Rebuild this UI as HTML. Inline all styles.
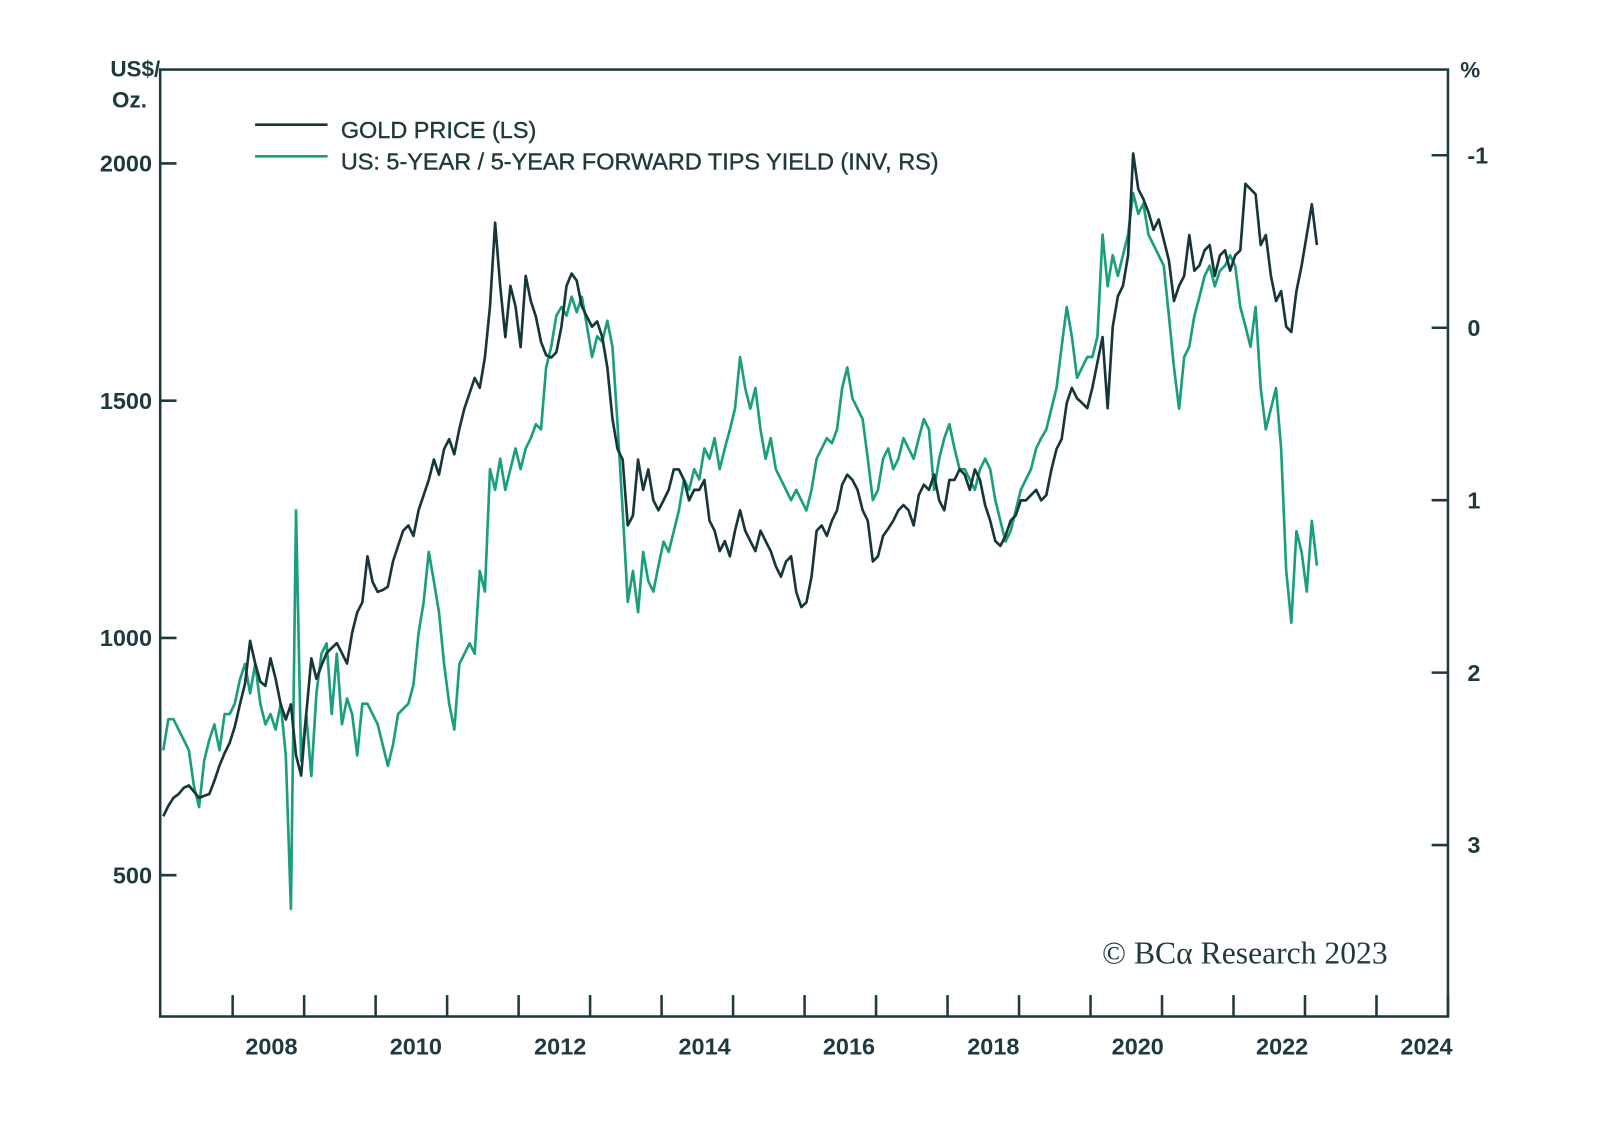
<!DOCTYPE html>
<html><head><meta charset="utf-8"><style>
body{margin:0;background:#fff;}
svg{display:block;}
text{font-family:"Liberation Sans",sans-serif;fill:#1f3a3d;}
</style></head><body>
<svg id="chart" width="1600" height="1133" viewBox="0 0 1568 1110" style="position:absolute;left:0;top:0"></svg>
<script>
const startYear = 2006.03;
const stepYears = 0.0714;
const goldPrice = [624,646,663,671,684,689,676,663,667,671,699,731,757,779,813,860,903,994,946,908,899,957,914,860,828,860,753,710,839,957,914,942,968,979,989,968,946,1011,1054,1075,1172,1118,1097,1101,1108,1161,1194,1226,1237,1215,1269,1301,1333,1376,1344,1398,1419,1387,1441,1484,1516,1548,1527,1591,1699,1875,1742,1634,1742,1699,1613,1763,1710,1677,1624,1596,1591,1602,1656,1742,1768,1753,1699,1677,1656,1667,1634,1570,1462,1398,1376,1237,1258,1376,1312,1355,1290,1269,1290,1312,1355,1355,1333,1290,1312,1312,1333,1247,1226,1183,1204,1172,1226,1269,1226,1204,1183,1226,1204,1183,1151,1129,1161,1172,1097,1065,1075,1129,1226,1237,1215,1247,1269,1323,1344,1333,1312,1269,1247,1161,1172,1215,1230,1247,1269,1280,1269,1237,1301,1323,1312,1344,1290,1269,1333,1333,1355,1344,1312,1355,1333,1280,1247,1204,1194,1215,1247,1258,1290,1290,1301,1312,1290,1301,1355,1398,1419,1495,1527,1505,1495,1484,1527,1581,1634,1484,1656,1720,1742,1806,2021,1946,1925,1897,1860,1882,1839,1796,1710,1742,1763,1849,1774,1785,1817,1828,1763,1806,1817,1774,1806,1817,1957,1946,1935,1828,1849,1763,1710,1731,1656,1645,1731,1785,1849,1914,1828];
const tipsYield = [2.45,2.27,2.27,2.33,2.39,2.45,2.66,2.78,2.51,2.39,2.30,2.45,2.24,2.24,2.18,2.04,1.95,2.12,1.95,2.18,2.30,2.24,2.33,2.18,2.48,3.37,1.06,2.51,2.24,2.60,2.12,1.89,1.83,2.24,1.89,2.30,2.15,2.24,2.48,2.18,2.18,2.24,2.30,2.42,2.54,2.42,2.24,2.21,2.18,2.07,1.77,1.59,1.30,1.47,1.65,1.95,2.18,2.33,1.95,1.89,1.83,1.89,1.41,1.53,0.82,0.94,0.76,0.94,0.82,0.70,0.82,0.70,0.64,0.56,0.59,0.23,0.11,-0.07,-0.12,-0.07,-0.18,-0.09,-0.18,-0.01,0.17,0.05,0.08,-0.04,0.11,0.56,1.06,1.59,1.41,1.65,1.30,1.47,1.53,1.38,1.24,1.30,1.18,1.06,0.88,0.94,0.82,0.88,0.70,0.76,0.64,0.82,0.70,0.59,0.47,0.17,0.35,0.47,0.35,0.59,0.76,0.64,0.82,0.88,0.94,1.00,0.94,1.00,1.06,0.94,0.76,0.70,0.64,0.67,0.59,0.35,0.23,0.41,0.47,0.53,0.76,1.00,0.94,0.76,0.70,0.82,0.76,0.64,0.70,0.76,0.64,0.53,0.59,0.94,0.76,0.64,0.56,0.70,0.82,0.82,0.88,0.94,0.82,0.76,0.82,1.00,1.12,1.24,1.18,1.06,0.94,0.88,0.82,0.70,0.64,0.59,0.47,0.35,0.11,-0.12,0.05,0.29,0.23,0.17,0.17,0.05,-0.54,-0.24,-0.42,-0.30,-0.42,-0.54,-0.78,-0.66,-0.72,-0.54,-0.48,-0.42,-0.36,-0.07,0.23,0.47,0.17,0.11,-0.07,-0.18,-0.30,-0.36,-0.24,-0.33,-0.36,-0.42,-0.36,-0.12,-0.01,0.11,-0.12,0.35,0.59,0.47,0.35,0.70,1.41,1.71,1.18,1.30,1.53,1.12,1.38];
const leftTicks = [500,1000,1500,2000];
const rightTicks = [-1,0,1,2,3];
const yearTicks = [2007,2008,2009,2010,2011,2012,2013,2014,2015,2016,2017,2018,2019,2020,2021,2022,2023,2024];
const yearLabels = [2008,2010,2012,2014,2016,2018,2020,2022,2024];

const NS="http://www.w3.org/2000/svg";
const svg=document.getElementById('chart');
const L=157,R=1419,T=68,B=996;
const xS=t=>228+(t-2007)*70.06;
const yL=v=>160+(2000-v)*0.465;
const yR=v=>152+(v+1)*169;
function mk(tag,attrs,txt){const e=document.createElementNS(NS,tag);for(const k in attrs)e.setAttribute(k,attrs[k]);if(txt!==undefined)e.textContent=txt;svg.appendChild(e);return e;}

const defs=mk('defs',{});
const cp=document.createElementNS(NS,'clipPath');cp.setAttribute('id','pc');
const cr=document.createElementNS(NS,'rect');cr.setAttribute('x',L);cr.setAttribute('y',T);cr.setAttribute('width',R-L);cr.setAttribute('height',B-T);
cp.appendChild(cr);defs.appendChild(cp);

function series(vals,yf,color,name){
  const d=vals.map((v,i)=>(i?'L':'M')+xS(startYear+i*stepYears).toFixed(1)+' '+yf(v).toFixed(1)).join(' ');
  const p=mk('path',{d:d,fill:'none',stroke:color,'stroke-width':2.6,'stroke-linejoin':'round','clip-path':'url(#pc)'});
  
  
}
series(tipsYield,yR,'#1a9e7d','tips-yield-line');
series(goldPrice,yL,'#17363a','gold-price-line');

const frame=mk('rect',{x:L,y:T,width:R-L,height:B-T,fill:'none',stroke:'#1f3a3d','stroke-width':2.5});



leftTicks.forEach(v=>{
  const y=yL(v);
  const t=mk('line',{x1:L,x2:L+16,y1:y,y2:y,stroke:'#1f3a3d','stroke-width':2.5});
  
  
  const lb=mk('text',{x:149,y:y+8,'text-anchor':'end','font-size':23,'font-weight':'bold'},String(v));
  
  
});
rightTicks.forEach(v=>{
  const y=yR(v);
  const t=mk('line',{x1:R-16,x2:R,y1:y,y2:y,stroke:'#1f3a3d','stroke-width':2.5});
  
  
  const lb=mk('text',{x:1438,y:y+8,'font-size':23,'font-weight':'bold'},String(v));
  
  
});
yearTicks.forEach(yr=>{
  const x=xS(yr);
  const t=mk('line',{x1:x,x2:x,y1:975,y2:B,stroke:'#1f3a3d','stroke-width':2.5});
  
  
});
yearLabels.forEach(yr=>{
  const x=266+(yr-2008)/2*141.5;
  const lb=mk('text',{x:x,y:1033,'text-anchor':'middle','font-size':23,'font-weight':'bold'},String(yr));
  
  
});

function txt(attrs,s,name){const e=mk('text',attrs,s);return e;}
function ln(attrs,name){const e=mk('line',attrs);return e;}
txt({x:157,y:75,'text-anchor':'end','font-size':22,'font-weight':'bold'},'US$/','left-axis-unit');
txt({x:144,y:105,'text-anchor':'end','font-size':22,'font-weight':'bold'},'Oz.','left-axis-unit-2');
txt({x:1431,y:76,'font-size':22,'font-weight':'bold'},'%','right-axis-unit');
ln({x1:250,x2:321,y1:122,y2:122,stroke:'#17363a','stroke-width':2.6},'legend-gold-swatch');
txt({x:334,y:135,'font-size':23,stroke:'#1f3a3d','stroke-width':0.4},'GOLD PRICE (LS)','legend-gold-label');
ln({x1:250,x2:321,y1:153,y2:153,stroke:'#1a9e7d','stroke-width':2.6},'legend-tips-swatch');
txt({x:334,y:166,'font-size':23,stroke:'#1f3a3d','stroke-width':0.4},'US: 5-YEAR / 5-YEAR FORWARD TIPS YIELD (INV, RS)','legend-tips-label');
const c=txt({x:1080,y:944,'font-size':31,style:"font-family:'Liberation Serif',serif"},'© BCα Research 2023','copyright');
</script>
</body></html>
